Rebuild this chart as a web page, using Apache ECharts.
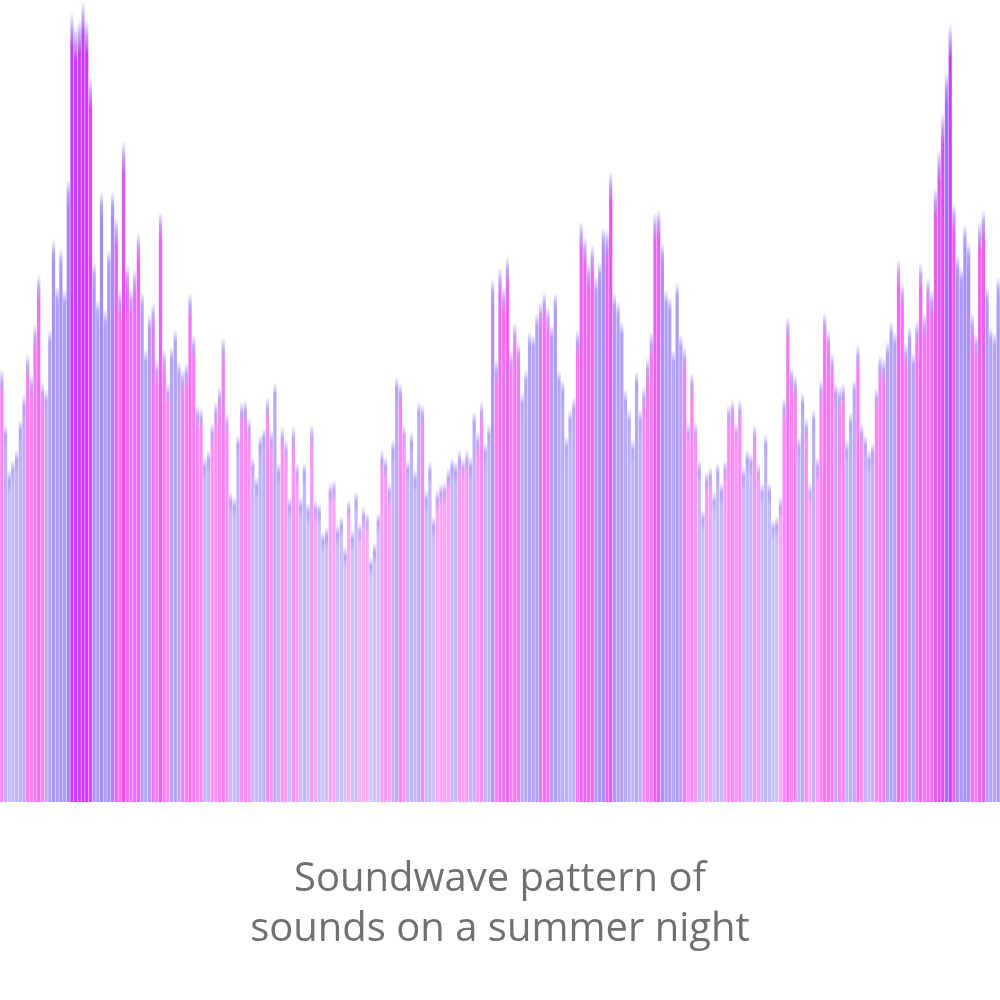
<!DOCTYPE html>
<html>
<head>
<meta charset="utf-8">
<script src="https://cdn.jsdelivr.net/npm/echarts@6/dist/echarts.min.js"></script>
<style>
  html, body { margin: 0; padding: 0; background: #ffffff; }
  #chart { width: 1000px; height: 1000px; }
</style>
</head>
<body>
<div id="chart"></div>
<script>
// ---- data: loudness level of each sample (0-800) ----
const levelsPart1 = [432,377,332,342,352,382,407,447,427,477,527,420,412,472,562,515,553,512,622,
  789,775,782,800,782,725,540,502,610,492,552,610,584,512,660,537,514,532,569,510,452,487,499,442,590,
  452,420,455,472,440,432,439,509,467,397,394,345];
const levelsPart2 = [352,379,400,415,464,389,310,305,367,400,402,384,345,325,367,374,404,372,419,339,
  375,362,305,375,339,305,339,299,377,302,299,270,275,319,322,277];
const levelsPart3 = [285,255,302,272,310,279,295,289,245,259,289,352,345,319,362,425,419,377,342,370,
  332,400,397,312,340,285,312,319,320,334,344,340,352,344,352,345,390,370,400,359,377,522,442,534,515];
const levelsPart4 = [545,452,479,460,409,432,470,467,489,500,510,495,477,509,432,422,365,392,404,472,
  580,565,539,557,525,540,574,572,630,509,500,480,412,392,362,430,392,415,444,470,589,592,559,512,505];
const levelsPart5 = [452,519,467,455,380,429,380,342,292,330,335,310,339,319,342,397,402,379,402,335,
  352,349,377,339,319,367,319,282,285,305,404,485,435,427,365,409,384,319,392,345,422,489,472,449,419];
const levelsPart6 = [415,419,362,389,422,457,379,367,352,359,414,447,444,460,480,470,542,519,459,475,
  449,482,539,489,524,512,614,652,689,729,777,599,547,535,577,559,489,469,580,592,515,475,469,524];

// ---- data: which source each sample belongs to (A = low band, B = high band) ----
const channels = (
  "B" + "AAAAAA" + "BBBBB" + "AAAAAAA" + "BBBBBB" + "AAAAAA" + "BBBBBBB" + "AAA" + "BBBBB" + "AAA" + "BBBBBB" + "A" +
  "A" + "BBBBB" + "AAA" + "BBB" + "AAAA" + "BB" + "AA" + "BB" + "A" + "BB" + "AAA" + "BB" + "AAA" + "BB" + "A" +
  "AA" + "B" + "AA" + "BBB" + "AAA" + "BBB" + "AA" + "BB" + "AAAA" + "B" + "AAA" + "BBBB" + "AA" + "BBB" + "AA" + "BB" + "AAA" + "BBB" +
  "BBBB" + "AAAAA" + "BBB" + "AAAAAAA" + "BBBBB" + "AAA" + "BB" + "AAAAAAAA" + "BBBBB" + "AAA" +
  "AAA" + "BBBB" + "AA" + "BB" + "AAA" + "BBBBB" + "AAA" + "BB" + "AAAAA" + "BBBBB" + "AA" + "BB" + "A" + "BBBBB" + "A" +
  "BB" + "AAA" + "BB" + "AAA" + "BBB" + "AAA" + "BBB" + "AA" + "BBBBBBBB" + "A" + "BB" + "AAAA" + "BBBB" + "AAAA"
).split('');

const titleLines = ['Soundwave pattern of', 'sounds on a summer night'];

// ---- build ----
const levels = [].concat(levelsPart1, levelsPart2, levelsPart3, levelsPart4, levelsPart5, levelsPart6);
const categories = levels.map((_, i) => String(i + 1));

const AXIS_MAX = 800;
const PLOT_H = 800;

const rampA = [[250, [204, 199, 250]], [450, [182, 166, 248]], [800, [146, 104, 243]]];
const rampB = [[250, [255, 184, 250]], [450, [252, 124, 246]], [800, [204, 58, 240]]];
const tipA = [150, 128, 245];
const tipB = [168, 130, 246];

function mix(a, b, t) { return a.map((x, i) => Math.round(x + (b[i] - x) * t)); }
function ramp(stops, v) {
  if (v <= stops[0][0]) return stops[0][1];
  for (let i = 1; i < stops.length; i++) {
    if (v <= stops[i][0]) {
      const t = (v - stops[i - 1][0]) / (stops[i][0] - stops[i - 1][0]);
      return mix(stops[i - 1][1], stops[i][1], t);
    }
  }
  return stops[stops.length - 1][1];
}
function rgba(c, a) { return 'rgba(' + c[0] + ',' + c[1] + ',' + c[2] + ',' + a + ')'; }

const barData = levels.map((v, i) => {
  const isB = channels[i] === 'B';
  const main = ramp(isB ? rampB : rampA, v);
  const tip = isB ? tipB : tipA;
  const hPx = v / AXIS_MAX * PLOT_H;
  const fadePx = 14 + v * 0.025;
  const f = Math.min(0.5, fadePx / hPx);
  return {
    value: v,
    itemStyle: {
      color: new echarts.graphic.LinearGradient(0, 0, 0, 1, [
        { offset: 0, color: rgba(tip, 0.05) },
        { offset: f * 0.45, color: rgba(tip, 0.7) },
        { offset: f, color: rgba(main, 1) },
        { offset: 1, color: rgba(main, 1) }
      ])
    }
  };
});

const chart = echarts.init(document.getElementById('chart'), null, { renderer: 'canvas' });
chart.setOption({
  animation: false,
  backgroundColor: '#ffffff',
  title: {
    text: titleLines.join('\n'),
    left: 'center',
    top: 850,
    textStyle: {
      fontFamily: 'Open Sans',
      fontSize: 40,
      fontWeight: 'normal',
      color: '#707070',
      lineHeight: 50
    }
  },
  grid: { left: 0, right: 0, top: 2, bottom: 198, containLabel: false },
  xAxis: {
    type: 'category',
    data: categories,
    show: false,
    boundaryGap: true
  },
  yAxis: {
    type: 'value',
    min: 0,
    max: AXIS_MAX,
    show: false
  },
  series: [{
    type: 'bar',
    data: barData,
    barCategoryGap: '12%',
    silent: true
  }]
});
</script>
</body>
</html>
